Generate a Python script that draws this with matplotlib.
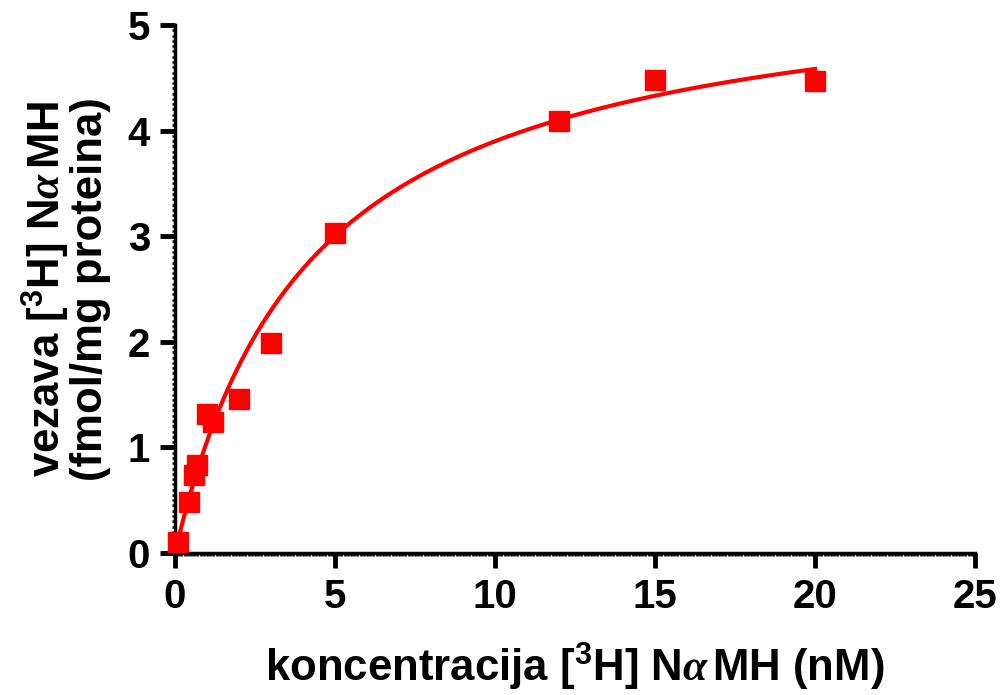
import numpy as np
import matplotlib
matplotlib.use("Agg")
import matplotlib.pyplot as plt
from matplotlib.ticker import MultipleLocator

# Data
conc_nM = [0.1, 0.45, 0.6, 0.7, 1.0, 1.2, 2.0, 3.0, 5.0, 12.0, 15.0, 20.0]
binding = [0.10, 0.48, 0.74, 0.83, 1.32, 1.24, 1.46, 1.99, 3.03, 4.09, 4.48, 4.47]

# One-site binding fit parameters (estimated from the drawn curve)
Bmax = 5.56
Kd = 4.26
fit_max_x = 20.0

x_ticks = [0, 5, 10, 15, 20, 25]
y_ticks = [0, 1, 2, 3, 4, 5]

plt.rcParams['font.family'] = ['Liberation Sans', 'DejaVu Sans']
plt.rcParams['font.weight'] = 'bold'
plt.rcParams['mathtext.fontset'] = 'custom'
plt.rcParams['mathtext.rm'] = 'Liberation Sans:bold'
plt.rcParams['mathtext.it'] = 'Liberation Serif:italic'
plt.rcParams['mathtext.bf'] = 'Liberation Sans:bold'
plt.rcParams['mathtext.default'] = 'rm'

fig = plt.figure(figsize=(10, 6.95), dpi=100)
ax = fig.add_axes([0.175, 0.2043, 0.80, 0.7597])

red = '#FF0000'
xf = np.linspace(0, fit_max_x, 400)
ax.plot(xf, Bmax * xf / (Kd + xf), color=red, lw=3, zorder=2, clip_on=False)
ax.plot(conc_nM, binding, 's', color=red, ms=15, mec=red, zorder=3, clip_on=False)

ax.set_xlim(0, 25)
ax.set_ylim(0, 5)
ax.set_xticks(x_ticks)
ax.set_yticks(y_ticks)
ax.xaxis.set_minor_locator(MultipleLocator(0.1))
ax.yaxis.set_minor_locator(MultipleLocator(0.05))

for s in ['top', 'right']:
    ax.spines[s].set_visible(False)
for s in ['left', 'bottom']:
    ax.spines[s].set_linewidth(2.5)

ax.tick_params(which='major', direction='out', length=11, width=3.5, labelsize=29, pad=7)
ax.tick_params(which='minor', direction='out', length=2.5, width=1.8)
for lab in ax.get_xticklabels() + ax.get_yticklabels():
    lab.set_fontweight('bold')

alpha = r'$\mathit{\alpha}\,$'
ax.set_xlabel('koncentracija [$^{3}$H] N' + alpha + 'MH (nM)', fontsize=31.5,
              fontweight='bold', labelpad=18)
ax.set_ylabel('vezava [$^{3}$H] N' + alpha + 'MH\n(fmol/mg proteina)', fontsize=31.5,
              fontweight='bold', labelpad=12, linespacing=0.95)

fig.savefig('out.png', dpi=100)
